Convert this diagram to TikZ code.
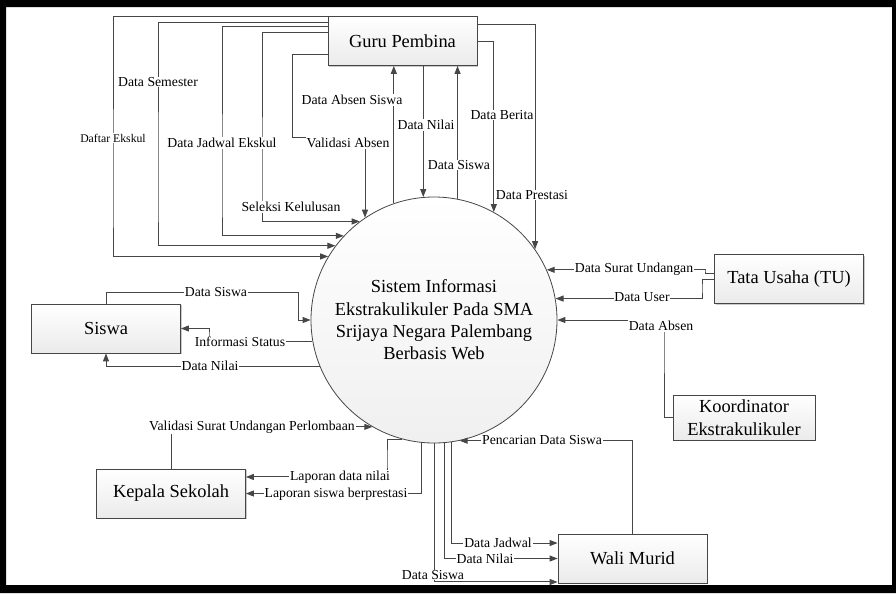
\documentclass[tikz,border=0pt]{standalone}
\usepackage{fontspec}
\setmainfont{Liberation Serif}
\usetikzlibrary{arrows.meta,shadows}
\definecolor{garis}{RGB}{70,70,70}
\tikzset{
  ent_b/.style = {rectangle, draw=garis, line width=0.6pt, align=center,
    top color=white, bottom color=gray!16, inner sep=0pt,
    drop shadow={shadow xshift=0.8pt, shadow yshift=-0.8pt, fill=gray!70, opacity=0.6},
    minimum width=111.75pt, minimum height=36.75pt,
    font=\fontsize{13.8}{17}\selectfont},% kotak entitas luar
  proses/.style = {circle, draw=garis, line width=0.6pt, align=center,
    top color=white, bottom color=gray!12, inner sep=0pt,
    minimum size=184.5pt, font=\fontsize{13.8}{16.7}\selectfont},% proses utama
  alur/.style = {->, draw=garis, line width=0.75pt},% aliran data
  ket/.style = {fill=white, inner sep=0.6pt, font=\fontsize{10.3}{12}\selectfont},% label aliran
  ket_k/.style = {ket, font=\fontsize{8.8}{10}\selectfont}% label kecil
}
\begin{document}
\begin{tikzpicture}[x=0.75pt, y=-0.75pt, >={Triangle[length=6pt,width=4.5pt]}]
\useasboundingbox (0,0) rectangle (896,593);
\fill[black, even odd rule] (0,0) rectangle (896,593) (6,7) rectangle (892,585);

\node[proses] (sys) at (434,320) {Sistem Informasi\\Ekstrakulikuler Pada SMA\\Srijaya Negara Palembang\\Berbasis Web};
\node[ent_b] (gp) at (402.5,41) {Guru Pembina};
\node[ent_b] (sw) at (106,328.5) {Siswa};
\node[ent_b] (ks) at (171,493.5) {Kepala Sekolah};
\node[ent_b] (wm) at (632.5,558.5) {Wali Murid};
\node[ent_b] (tu) at (789,279) {Tata Usaha (TU)};
\node[ent_b, minimum width=106.5pt, minimum height=33.75pt] (ko) at (744,417.5) {Koordinator\\Ekstrakulikuler};

% guru pembina
\draw[alur] (gp.north west) -| (113,200) |- (sys.149.7);
\draw[alur] ([yshift=-4.5pt]gp.north west) -| (158,200) |- (sys.143.6);
\draw[alur] ([yshift=-7.5pt]gp.north west) -| (222,200) |- (sys.137.6);
\draw[alur] ([yshift=-12pt]gp.north west) -| (262,200) |- (sys.127.9);
\draw[alur] ([yshift=-28.5pt]gp.north west) -| (292,137) -| (sys.124.1);
\draw[alur] (sys.109) -- (sys.109 |- gp.south);
\draw[alur] (sys.95.1 |- gp.south) -- (sys.95.1);
\draw[alur] (sys.79.2) -- (sys.79.2 |- gp.south);
\draw[alur] (gp.east) -| (sys.61.3);
\draw[alur] ([yshift=-6pt]gp.north east) -| (sys.35.6);

% siswa
\draw[alur] (sw.north) |- (298,292) |- (sys.west);
\draw[alur] (sys.190.3) -| (209,335) |- (sw.east);
\draw[alur] (sys.202) -| (sw.south);

% kepala sekolah
\draw[alur] (ks.north) |- (sys.240.4);
\draw[alur] (sys.255.3) -| (387,460) |- ([yshift=12.4pt]ks.east);
\draw[alur] (sys.264.4) |- (ks.east);

% wali murid
\draw[alur] (sys.south) |- ([yshift=-17.6pt]wm.west);
\draw[alur] (sys.275.1) |- (wm.west);
\draw[alur] (sys.278.4) |- ([yshift=11.6pt]wm.west);
\draw[alur] (wm.north) |- (sys.282.7);

% tata usaha, koordinator
\draw[alur] ([yshift=4.5pt]tu.west) -| (705,271) |- (sys.24.5);
\draw[alur] (tu.west) -| (702,288) |- (sys.10.8);
\draw[alur] (ko.west) -| (664,330) |- (sys.east);

\node[ket_k] (l1) at (113,138) {Daftar Ekskul};
\node[ket] (l2) at (158,82) {Data Semester};
\node[ket] (l3) at (222,143) {Data Jadwal Ekskul};
\node[ket] (l4) at (291,207) {Seleksi Kelulusan};
\node[ket] (l5) at (348,143) {Validasi Absen};
\node[ket] (l6) at (352,100) {Data Absen Siswa};
\node[ket] (l7) at (426,125) {Data Nilai};
\node[ket] (l8) at (459,165) {Data Siswa};
\node[ket] (l9) at (502,115) {Data Berita};
\node[ket] (l10) at (532,195) {Data Prestasi};
\node[ket] (l11) at (216,292) {Data Siswa};
\node[ket] (l12) at (240,342) {Informasi Status};
\node[ket] (l13) at (210,366) {Data Nilai};
\node[ket] (l14) at (252,427) {Validasi Surat Undangan Perlombaan};
\node[ket] (l15) at (340,477) {Laporan data nilai};
\node[ket] (l16) at (336,494) {Laporan siswa berprestasi};
\node[ket] (l17) at (433,575) {Data Siswa};
\node[ket] (l18) at (485,559) {Data Nilai};
\node[ket] (l19) at (498,543) {Data Jadwal};
\node[ket] (l20) at (542,440) {Pencarian Data Siswa};
\node[ket] (l21) at (634,269) {Data Surat Undangan};
\node[ket] (l22) at (642,297) {Data User};
\node[ket] (l23) at (661,326) {Data Absen};
\end{tikzpicture}
\end{document}
